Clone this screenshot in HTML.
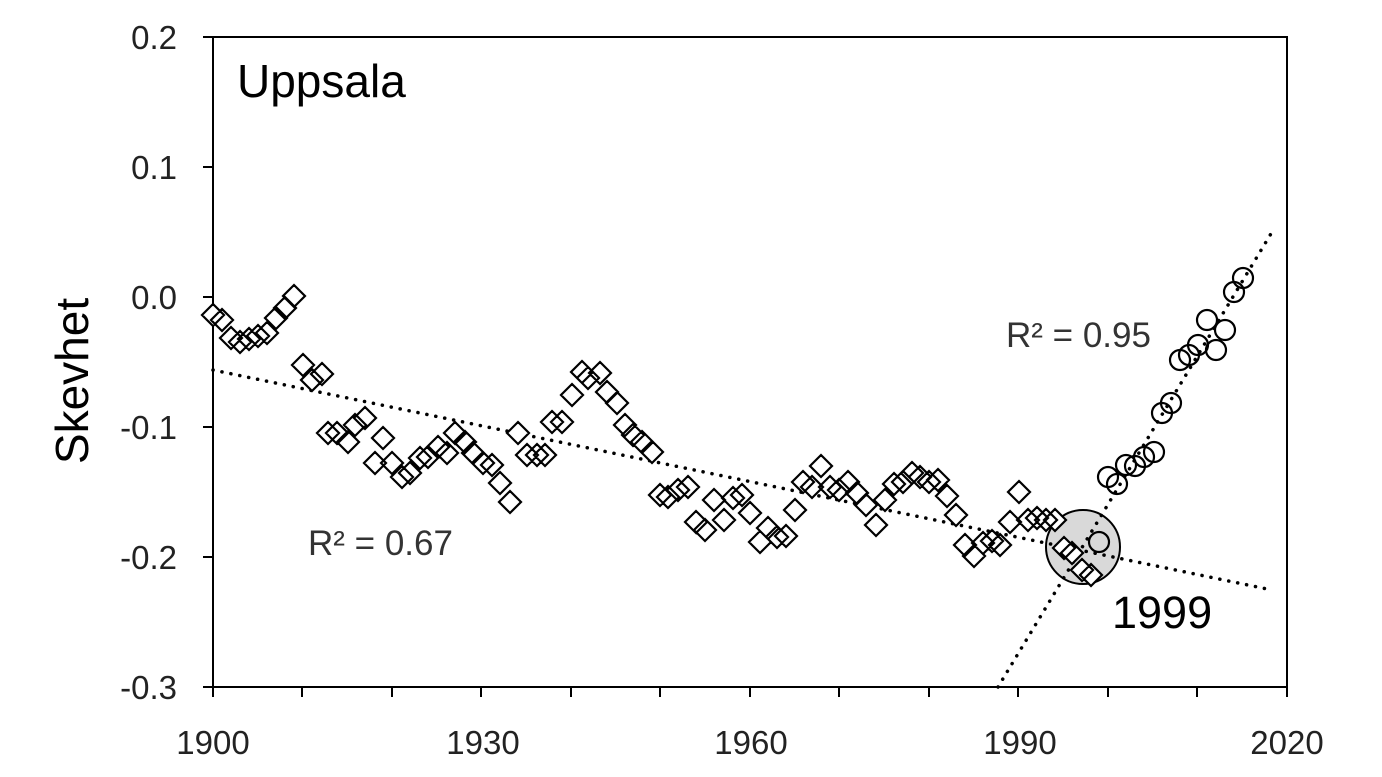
<!DOCTYPE html>
<html><head><meta charset="utf-8"><style>
html,body{margin:0;padding:0;background:#fff;}
svg{display:block;}
text{font-family:"Liberation Sans",sans-serif;}
</style></head><body>
<svg width="1382" height="777" viewBox="0 0 1382 777" xmlns="http://www.w3.org/2000/svg">
<rect x="0" y="0" width="1382" height="777" fill="#fff"/>
<circle cx="1083" cy="547" r="37" fill="#d9d9d9" stroke="#000" stroke-width="2"/>
<g stroke="#000" stroke-width="3.5" stroke-dasharray="0.1 9" stroke-linecap="round" fill="none">
<line x1="213" y1="370" x2="1272" y2="590"/>
<line x1="998" y1="687" x2="1272" y2="232"/>
</g>
<g fill="none" stroke="#000" stroke-width="2">
<rect x="213" y="37" width="1074" height="650"/>
<path d="M203 37H213M203 167H213M203 297H213M203 427H213M203 557H213M203 687H213"/>
<path d="M213 687V697M302 687V697M392 687V697M481 687V697M571 687V697M660 687V697M750 687V697M839 687V697M929 687V697M1018 687V697M1108 687V697M1197 687V697M1287 687V697"/>
</g>
<g font-size="33" fill="#222" text-anchor="end">
<text x="177" y="49">0.2</text>
<text x="177" y="179">0.1</text>
<text x="177" y="309">0.0</text>
<text x="177" y="439">-0.1</text>
<text x="177" y="569">-0.2</text>
<text x="177" y="699">-0.3</text>
</g>
<g font-size="33" fill="#222" text-anchor="middle">
<text x="213" y="754">1900</text>
<text x="483" y="754">1930</text>
<text x="751" y="754">1960</text>
<text x="1020" y="754">1990</text>
<text x="1287" y="754">2020</text>
</g>
<text x="237" y="97" font-size="46" fill="#000">Uppsala</text>
<text x="308" y="555" font-size="35" fill="#333">R² = 0.67</text>
<text x="1006" y="347" font-size="35" fill="#333">R² = 0.95</text>
<text x="1112" y="628" font-size="45" fill="#000">1999</text>
<text transform="translate(88,381) rotate(-90)" font-size="46" fill="#000" text-anchor="middle">Skevhet</text>
<g fill="#fff" stroke="#000" stroke-width="2.2">
<path d="
M213 304l11 11-11 11-11-11z
M222 309l11 11-11 11-11-11z
M231 327l11 11-11 11-11-11z
M240 331l11 11-11 11-11-11z
M249 328l11 11-11 11-11-11z
M258 325l11 11-11 11-11-11z
M267 322l11 11-11 11-11-11z
M276 307l11 11-11 11-11-11z
M285 297l11 11-11 11-11-11z
M294 285l11 11-11 11-11-11z
M303 354l11 11-11 11-11-11z
M312 369l11 11-11 11-11-11z
M322 363l11 11-11 11-11-11z
M328 422l11 11-11 11-11-11z
M337 422l11 11-11 11-11-11z
M348 431l11 11-11 11-11-11z
M355 414l11 11-11 11-11-11z
M365 407l11 11-11 11-11-11z
M375 452l11 11-11 11-11-11z
M383 427l11 11-11 11-11-11z
M392 452l11 11-11 11-11-11z
M402 466l11 11-11 11-11-11z
M410 462l11 11-11 11-11-11z
M420 447l11 11-11 11-11-11z
M428 446l11 11-11 11-11-11z
M438 436l11 11-11 11-11-11z
M447 442l11 11-11 11-11-11z
M455 422l11 11-11 11-11-11z
M465 431l11 11-11 11-11-11z
M473 442l11 11-11 11-11-11z
M483 452l11 11-11 11-11-11z
M492 454l11 11-11 11-11-11z
M500 472l11 11-11 11-11-11z
M510 491l11 11-11 11-11-11z
M518 422l11 11-11 11-11-11z
M527 444l11 11-11 11-11-11z
M537 444l11 11-11 11-11-11z
M545 444l11 11-11 11-11-11z
M552 411l11 11-11 11-11-11z
M562 411l11 11-11 11-11-11z
M572 384l11 11-11 11-11-11z
M582 361l11 11-11 11-11-11z
M588 367l11 11-11 11-11-11z
M600 362l11 11-11 11-11-11z
M607 381l11 11-11 11-11-11z
M617 392l11 11-11 11-11-11z
M625 414l11 11-11 11-11-11z
M633 424l11 11-11 11-11-11z
M642 431l11 11-11 11-11-11z
M652 441l11 11-11 11-11-11z
M660 484l11 11-11 11-11-11z
M668 486l11 11-11 11-11-11z
M678 479l11 11-11 11-11-11z
M688 476l11 11-11 11-11-11z
M696 511l11 11-11 11-11-11z
M705 519l11 11-11 11-11-11z
M714 489l11 11-11 11-11-11z
M724 509l11 11-11 11-11-11z
M733 487l11 11-11 11-11-11z
M742 484l11 11-11 11-11-11z
M750 502l11 11-11 11-11-11z
M760 531l11 11-11 11-11-11z
M768 517l11 11-11 11-11-11z
M777 526l11 11-11 11-11-11z
M786 525l11 11-11 11-11-11z
M795 499l11 11-11 11-11-11z
M803 471l11 11-11 11-11-11z
M812 476l11 11-11 11-11-11z
M821 455l11 11-11 11-11-11z
M830 476l11 11-11 11-11-11z
M839 479l11 11-11 11-11-11z
M848 471l11 11-11 11-11-11z
M857 482l11 11-11 11-11-11z
M866 494l11 11-11 11-11-11z
M876 514l11 11-11 11-11-11z
M885 489l11 11-11 11-11-11z
M894 473l11 11-11 11-11-11z
M903 471l11 11-11 11-11-11z
M912 462l11 11-11 11-11-11z
M920 466l11 11-11 11-11-11z
M929 471l11 11-11 11-11-11z
M938 469l11 11-11 11-11-11z
M947 485l11 11-11 11-11-11z
M956 504l11 11-11 11-11-11z
M965 534l11 11-11 11-11-11z
M974 545l11 11-11 11-11-11z
M983 532l11 11-11 11-11-11z
M992 530l11 11-11 11-11-11z
M1000 534l11 11-11 11-11-11z
M1010 511l11 11-11 11-11-11z
M1019 481l11 11-11 11-11-11z
M1028 509l11 11-11 11-11-11z
M1037 507l11 11-11 11-11-11z
M1046 509l11 11-11 11-11-11z
M1055 509l11 11-11 11-11-11z
M1064 537l11 11-11 11-11-11z
M1072 542l11 11-11 11-11-11z
M1082 559l11 11-11 11-11-11z
M1091 564l11 11-11 11-11-11z
"/>
</g>
<g fill="none" stroke="#000" stroke-width="2.2">
<circle cx="1099" cy="542" r="10"/>
<circle cx="1108" cy="477" r="10"/>
<circle cx="1117" cy="484" r="10"/>
<circle cx="1126" cy="465" r="10"/>
<circle cx="1135" cy="466" r="10"/>
<circle cx="1144" cy="457" r="10"/>
<circle cx="1154" cy="452" r="10"/>
<circle cx="1162" cy="413" r="10"/>
<circle cx="1171" cy="403" r="10"/>
<circle cx="1180" cy="360" r="10"/>
<circle cx="1189" cy="355" r="10"/>
<circle cx="1198" cy="345" r="10"/>
<circle cx="1207" cy="320" r="10"/>
<circle cx="1216" cy="350" r="10"/>
<circle cx="1225" cy="330" r="10"/>
<circle cx="1234" cy="292" r="10"/>
<circle cx="1243" cy="278" r="10"/>
</g>
</svg>
</body></html>
